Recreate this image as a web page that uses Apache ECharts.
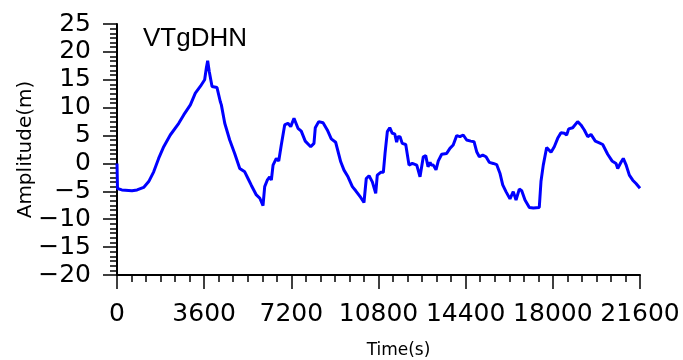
<!DOCTYPE html>
<html>
<head>
<meta charset="utf-8">
<script src="https://cdn.jsdelivr.net/npm/echarts@6/dist/echarts.min.js"></script>
<style>
  html, body { margin: 0; padding: 0; background: #fff; }
  #chart { width: 683px; height: 360px; }
</style>
</head>
<body>
<div id="chart"></div>
<script>
const stationName = 'VTgDHN';
// time in seconds, amplitude in metres
const times = [0, 20, 200, 620, 830, 1100, 1310, 1515, 1720, 1930, 2200, 2550, 2755, 3030, 3235, 3440, 3620, 3690, 3745, 3810, 3925, 4130, 4265, 4310, 4450, 4655, 4860, 5070, 5275, 5410, 5545, 5755, 5895, 6030, 6100, 6205, 6305, 6375, 6445, 6580, 6680, 6785, 6925, 7060, 7175, 7310, 7475, 7610, 7775, 8000, 8135, 8190, 8330, 8510, 8685, 8850, 9030, 9240, 9375, 9540, 9720, 9860, 10065, 10200, 10295, 10410, 10545, 10685, 10750, 10890, 11000, 11070, 11165, 11265, 11370, 11470, 11550, 11605, 11690, 11780, 11925, 12060, 12195, 12380, 12515, 12650, 12750, 12845, 12930, 12980, 13065, 13175, 13270, 13410, 13615, 13750, 13885, 14030, 14165, 14300, 14440, 14610, 14745, 14855, 14965, 15105, 15240, 15375, 15540, 15680, 15815, 15930, 16065, 16230, 16365, 16480, 16615, 16715, 16850, 17030, 17195, 17440, 17510, 17605, 17745, 17925, 18060, 18200, 18335, 18475, 18570, 18655, 18820, 19025, 19160, 19300, 19440, 19575, 19755, 19920, 20060, 20265, 20445, 20610, 20680, 20815, 20910, 21020, 21160, 21300, 21435, 21600];
const amplitude = [0, -4.5, -4.75, -4.9, -4.75, -4.3, -3.25, -1.5, 0.9, 3.0, 5.1, 7.2, 8.7, 10.5, 12.6, 13.8, 15.0, 17.1, 18.4, 16.5, 13.8, 13.6, 11.1, 10.5, 7.2, 4.2, 1.8, -0.9, -1.5, -2.7, -3.9, -5.65, -6.2, -7.55, -4.15, -3.0, -2.4, -3.0, -0.3, 0.9, 0.45, 3.3, 6.9, 7.2, 6.6, 8.1, 6.3, 5.8, 4.0, 3.0, 3.6, 6.4, 7.5, 7.3, 6.0, 4.4, 3.8, 0.3, -1.2, -2.4, -4.15, -4.9, -6.1, -7.0, -2.7, -2.2, -3.3, -5.35, -2.1, -1.6, -1.6, 1.8, 5.7, 6.4, 5.4, 5.3, 3.8, 4.8, 4.8, 3.6, 3.4, -0.3, 0, -0.3, -2.4, 1.2, 1.4, -0.6, 0.2, -0.3, -0.3, -1.15, 0.45, 1.65, 1.8, 2.7, 3.3, 5.0, 4.8, 5.1, 4.2, 4.0, 3.9, 2.1, 1.2, 1.5, 1.2, 0.2, 0, -0.2, -1.75, -3.85, -5.05, -6.35, -5.05, -6.55, -4.6, -4.9, -6.55, -7.9, -8.0, -7.9, -3.25, -0.3, 2.85, 2.0, 3.0, 4.5, 5.5, 5.4, 5.1, 6.2, 6.4, 7.5, 6.9, 6.0, 4.8, 5.2, 4.0, 3.7, 3.4, 1.65, 0.45, 0.0, -0.9, 0.2, 0.9, -0.2, -2.1, -3.0, -3.6, -4.45];
const xTicks = [0, 3600, 7200, 10800, 14400, 18000, 21600];
const yTicks = [-20, -15, -10, -5, 0, 5, 10, 15, 20, 25];

const chart = echarts.init(document.getElementById('chart'));
const minus = v => String(v).replace('-', '\u2212');
const axisLine = { show: true, onZero: false, lineStyle: { color: '#000', width: 2 } };

chart.setOption({
    animation: false,
    title: {
        text: stationName,
        left: 138,
        top: 21,
        textStyle: { fontFamily: 'Liberation Sans', fontSize: 26, fontWeight: 'normal', color: '#000' }
    },
    grid: { left: 117, right: 43, top: 24, bottom: 85, outerBoundsMode: 'none', containLabel: false },
    xAxis: {
        type: 'value',
        min: xTicks[0],
        max: xTicks[xTicks.length - 1],
        interval: 3600,
        name: 'Time(s)',
        nameLocation: 'middle',
        nameGap: 67,
        nameMoveOverlap: false,
        nameTextStyle: { fontFamily: 'DejaVu Sans', fontSize: 17, color: '#000', padding: [0, 0, 0, 40] },
        axisLine: axisLine,
        axisTick: { show: true, length: 14, lineStyle: { color: '#000', width: 1.5 } },
        minorTick: { show: true, splitNumber: 6, length: 7, lineStyle: { color: '#000', width: 1.5 } },
        splitLine: { show: false },
        axisLabel: { fontFamily: 'DejaVu Sans', fontSize: 25, color: '#000', margin: 27, formatter: minus }
    },
    yAxis: {
        type: 'value',
        min: yTicks[0],
        max: yTicks[yTicks.length - 1],
        interval: 5,
        name: 'Amplitude(m)',
        nameLocation: 'middle',
        nameGap: 81,
        nameMoveOverlap: false,
        nameTextStyle: { fontFamily: 'DejaVu Sans', fontSize: 20, color: '#000' },
        axisLine: axisLine,
        axisTick: { show: true, length: 14, lineStyle: { color: '#000', width: 1.5 } },
        minorTick: { show: true, splitNumber: 6, length: 7, lineStyle: { color: '#000', width: 1.5 } },
        splitLine: { show: false },
        axisLabel: { fontFamily: 'DejaVu Sans', fontSize: 25, color: '#000', margin: 26, formatter: minus }
    },
    series: [{
        type: 'line',
        data: times.map((t, i) => [t, amplitude[i]]),
        showSymbol: false,
        lineStyle: { color: '#0000ff', width: 3 },
        z: 1
    }]
});
</script>
</body>
</html>
